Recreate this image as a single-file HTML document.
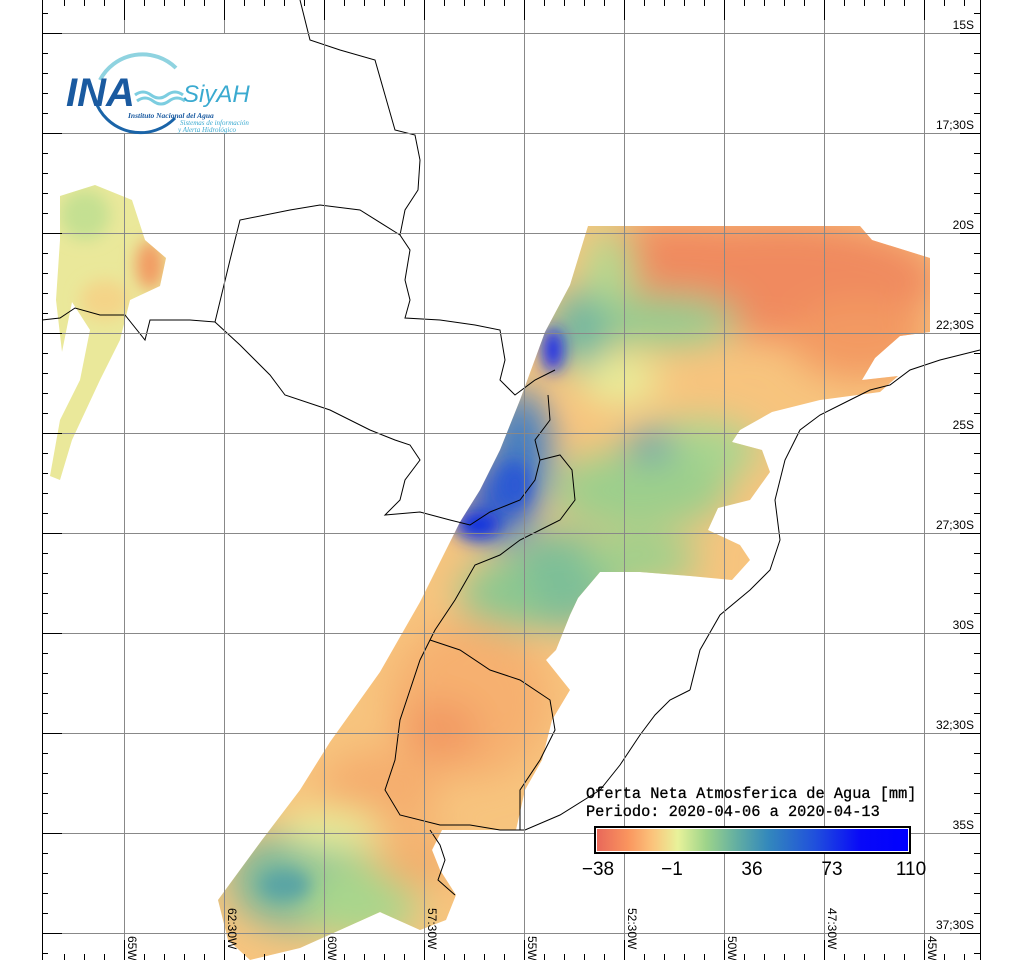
<!DOCTYPE html>
<html><head><meta charset="utf-8"><style>
html,body{margin:0;padding:0;background:#fff;width:1024px;height:960px;overflow:hidden}
svg{display:block}
</style></head><body>
<svg width="1024" height="960" viewBox="0 0 1024 960" xmlns="http://www.w3.org/2000/svg">
<defs>
<clipPath id="main"><path d="M588,226 L860,226 L872,240 L930,258 L930,332 L900,336 L875,358 L862,380 L898,376 L880,392 L820,400 L772,412 L740,430 L732,442 L762,450 L770,472 L750,500 L718,508 L708,530 L740,545 L750,560 L732,580 L690,576 L640,572 L600,572 L578,598 L570,615 L556,650 L546,660 L570,690 L552,720 L542,760 L525,790 L516,830 L490,830 L442,830 L432,850 L440,870 L456,895 L446,920 L420,930 L380,912 L340,930 L300,948 L250,960 L228,940 L218,900 L262,840 L300,790 L330,742 L380,672 L420,602 L440,562 L460,522 L480,490 L500,450 L520,400 L545,332 L570,285 Z"/></clipPath>
<clipPath id="west"><path d="M60,196 L95,185 L132,200 L145,240 L166,258 L160,286 L130,300 L120,340 L100,380 L72,440 L60,480 L50,476 L60,420 L80,380 L90,330 L72,302 L62,352 L56,300 L60,240 Z"/></clipPath>
<filter id="bl" x="-20%" y="-20%" width="140%" height="140%"><feGaussianBlur stdDeviation="18"/></filter>
<filter id="bl2"><feGaussianBlur stdDeviation="8"/></filter>
<linearGradient id="cb" x1="0" x2="1" y1="0" y2="0">
<stop offset="0" stop-color="#e8685a"/><stop offset="0.1" stop-color="#fa955e"/><stop offset="0.18" stop-color="#fbc47c"/><stop offset="0.26" stop-color="#e8f29a"/><stop offset="0.35" stop-color="#9ed48a"/><stop offset="0.45" stop-color="#62aea2"/><stop offset="0.55" stop-color="#3388bc"/><stop offset="0.7" stop-color="#2050dc"/><stop offset="0.85" stop-color="#0808f8"/><stop offset="1" stop-color="#0000ff"/>
</linearGradient>
</defs>

<g clip-path="url(#main)">
<rect x="200" y="220" width="750" height="740" fill="#f7c47e"/>
<g filter="url(#bl)">
<ellipse cx="780" cy="280" rx="160" ry="60" fill="#f08a5e"/>
<ellipse cx="680" cy="245" rx="90" ry="25" fill="#f08a5e"/>
<ellipse cx="860" cy="340" rx="70" ry="40" fill="#f39a62"/>
<ellipse cx="660" cy="320" rx="80" ry="25" fill="#92cc90"/>
<ellipse cx="610" cy="270" rx="25" ry="40" fill="#b0da90"/>
<ellipse cx="580" cy="330" rx="30" ry="40" fill="#70b6a0"/>
<ellipse cx="700" cy="450" rx="60" ry="30" fill="#a8d690"/>
<ellipse cx="640" cy="490" rx="90" ry="40" fill="#9ccf8c"/>
<ellipse cx="650" cy="445" rx="22" ry="14" fill="#4a90b8"/>
<ellipse cx="620" cy="380" rx="40" ry="25" fill="#e8ee9a"/>
<ellipse cx="520" cy="450" rx="30" ry="60" fill="#3c7cc4"/>
<ellipse cx="500" cy="500" rx="35" ry="40" fill="#2a5ad0"/>
<ellipse cx="560" cy="580" rx="60" ry="50" fill="#7cbe98"/>
<ellipse cx="500" cy="600" rx="40" ry="40" fill="#8cc890"/>
<ellipse cx="640" cy="560" rx="60" ry="25" fill="#9cd08c"/>
<ellipse cx="470" cy="700" rx="80" ry="80" fill="#f6b070"/>
<ellipse cx="440" cy="730" rx="40" ry="30" fill="#f29a64"/>
<ellipse cx="380" cy="790" rx="60" ry="40" fill="#f5ae6e"/>
<ellipse cx="300" cy="880" rx="70" ry="50" fill="#7ab89a"/>
<ellipse cx="360" cy="900" rx="60" ry="40" fill="#a8d68c"/>
<ellipse cx="420" cy="860" rx="40" ry="30" fill="#f3b06e"/>
<ellipse cx="330" cy="830" rx="50" ry="20" fill="#e8ee9a"/>
</g>
<g filter="url(#bl2)">
<ellipse cx="553" cy="350" rx="10" ry="22" fill="#0a20f0"/>
<ellipse cx="478" cy="525" rx="22" ry="14" fill="#1030e0"/>
<ellipse cx="515" cy="485" rx="15" ry="22" fill="#2a58d4"/>
<ellipse cx="285" cy="885" rx="25" ry="15" fill="#5aa4a4"/>
</g>
</g>
<g clip-path="url(#west)">
<rect x="40" y="180" width="140" height="310" fill="#eae89a"/>
<g filter="url(#bl2)">
<ellipse cx="150" cy="265" rx="14" ry="25" fill="#f29a62"/>
<ellipse cx="85" cy="215" rx="25" ry="25" fill="#c4e092"/>
<ellipse cx="105" cy="300" rx="25" ry="20" fill="#f4d488"/>
</g>
</g>

<g fill="none" stroke="#000" stroke-width="1">
<path d="M300,0 L310,40 L340,50 L375,60 L385,95 L395,130 L415,135 L420,160 L418,190 L405,210 L400,235 L410,250 L405,280 L410,300 L405,318 L440,320 L475,325 L500,330 L505,360 L500,380 L515,395 L535,380 L555,370"/>
<path d="M42,320 L60,318 L75,308 L100,315 L125,315 L145,340 L150,320 L190,320 L215,322 L230,260 L240,220 L290,210 L320,205 L360,210 L400,235"/>
<path d="M215,322 L240,345 L270,375 L285,395 L330,410 L370,430 L395,440 L410,445 L420,460 L405,480 L400,500 L385,515 L420,512 L450,520 L470,525 L490,512 L520,500 L535,480 L540,460 L535,440 L550,420 L548,395"/>
<path d="M540,460 L560,455 L572,470 L575,500 L560,520 L540,530 L520,540 L500,555 L475,565 L455,600 L435,630 L420,660 L410,690 L400,720 L395,760 L385,790 L400,815 L440,825 L470,825 L500,830 L525,830 L560,815 L600,790 L620,765 L640,735 L655,715 L670,700 L690,690"/>
<path d="M430,640 L460,650 L490,670 L520,680 L550,700 L555,730 L540,760 L520,790 L520,830"/>
<path d="M690,690 L700,650 L720,615 L750,590 L770,570 L780,540 L775,500 L785,460 L800,430 L820,415 L850,400 L870,390 L890,385 L910,370 L940,360 L980,350"/>
<path d="M430,830 L440,845 L445,860 L438,880 L455,895"/>
</g>

<g stroke="#888" stroke-width="1" fill="none">
<path d="M124.5,0V960M224.5,0V960M324.5,0V960M424.5,0V960M524.5,0V960M624.5,0V960M724.5,0V960M824.5,0V960M924.5,0V960"/>
<path d="M42,33.5H980M42,133.5H980M42,233.5H980M42,333.5H980M42,433.5H980M42,533.5H980M42,633.5H980M42,733.5H980M42,833.5H980M42,933.5H980"/>
</g>

<!-- logo -->
<rect x="62" y="34" width="204" height="99" fill="#fff"/>
<path d="M100,80 A48,48 0 0 1 176,68" fill="none" stroke="#8fd3e0" stroke-width="4"/>
<path d="M95,100 A48,48 0 0 0 175,118" fill="none" stroke="#1a64a8" stroke-width="3"/>
<text x="66" y="106" font-family="Liberation Sans, sans-serif" font-size="40" font-style="italic" font-weight="bold" fill="#1a5aa0">INA</text>
<path d="M135,95 q8,-6 16,0 t16,0 t16,0 M137,101 q8,-6 16,0 t16,0 t16,0" stroke="#7ccde0" stroke-width="3" fill="none"/>
<text x="183" y="102" font-family="Liberation Sans, sans-serif" font-size="24" font-style="italic" fill="#3aaad0">SiyAH</text>
<text x="128" y="118" font-family="Liberation Serif, serif" font-size="7.5" font-style="italic" font-weight="bold" fill="#1a5aa0">Instituto Nacional del Agua</text>
<text x="180" y="125" font-family="Liberation Serif, serif" font-size="7" font-style="italic" fill="#3aaad0">Sistemas de información</text>
<text x="178" y="132" font-family="Liberation Serif, serif" font-size="7" font-style="italic" fill="#3aaad0">y Alerta Hidrológico</text>

<g stroke="#000" stroke-width="1">
<path d="M42.5,0V960M980.5,0V960"/>
<path id="lt" d="M42,13.5h6M42,33.5h20M42,53.5h6M42,73.5h6M42,93.5h6M42,113.5h6M42,133.5h20M42,153.5h6M42,173.5h6M42,193.5h6M42,213.5h6M42,233.5h20M42,253.5h6M42,273.5h6M42,293.5h6M42,313.5h6M42,333.5h20M42,353.5h6M42,373.5h6M42,393.5h6M42,413.5h6M42,433.5h20M42,453.5h6M42,473.5h6M42,493.5h6M42,513.5h6M42,533.5h20M42,553.5h6M42,573.5h6M42,593.5h6M42,613.5h6M42,633.5h20M42,653.5h6M42,673.5h6M42,693.5h6M42,713.5h6M42,733.5h20M42,753.5h6M42,773.5h6M42,793.5h6M42,813.5h6M42,833.5h20M42,853.5h6M42,873.5h6M42,893.5h6M42,913.5h6M42,933.5h20M42,953.5h6"/>
<use href="#lt" transform="translate(1022,0) scale(-1,1)"/>
<path id="tt" d="M64.5,0v6M84.5,0v6M104.5,0v6M124.5,0v20M144.5,0v6M164.5,0v6M184.5,0v6M204.5,0v6M224.5,0v20M244.5,0v6M264.5,0v6M284.5,0v6M304.5,0v6M324.5,0v20M344.5,0v6M364.5,0v6M384.5,0v6M404.5,0v6M424.5,0v20M444.5,0v6M464.5,0v6M484.5,0v6M504.5,0v6M524.5,0v20M544.5,0v6M564.5,0v6M584.5,0v6M604.5,0v6M624.5,0v20M644.5,0v6M664.5,0v6M684.5,0v6M704.5,0v6M724.5,0v20M744.5,0v6M764.5,0v6M784.5,0v6M804.5,0v6M824.5,0v20M844.5,0v6M864.5,0v6M884.5,0v6M904.5,0v6M924.5,0v20M944.5,0v6M964.5,0v6"/>
<use href="#tt" transform="translate(0,960) scale(1,-1)"/>
</g>
<g font-family="Liberation Sans, sans-serif" font-size="12" fill="#000" text-anchor="end">
<text x="974" y="29">15S</text><text x="974" y="129">17;30S</text><text x="974" y="229">20S</text><text x="974" y="329">22;30S</text><text x="974" y="429">25S</text><text x="974" y="529">27;30S</text><text x="974" y="629">30S</text><text x="974" y="729">32;30S</text><text x="974" y="829">35S</text><text x="974" y="929">37;30S</text>
</g>
<g font-family="Liberation Sans, sans-serif" font-size="12" fill="#000">
<text transform="translate(128,936) rotate(90)">65W</text>
<text transform="translate(228,908) rotate(90)">62:30W</text>
<text transform="translate(328,936) rotate(90)">60W</text>
<text transform="translate(428,908) rotate(90)">57:30W</text>
<text transform="translate(528,936) rotate(90)">55W</text>
<text transform="translate(628,908) rotate(90)">52:30W</text>
<text transform="translate(728,936) rotate(90)">50W</text>
<text transform="translate(828,908) rotate(90)">47:30W</text>
<text transform="translate(928,936) rotate(90)">45W</text>
</g>
<g font-family="Liberation Mono, monospace" font-size="15.3" fill="#000" stroke="#000" stroke-width="0.3">
<text x="586" y="798">Oferta Neta Atmosferica de Agua [mm]</text>
<text x="586" y="816">Periodo: 2020-04-06 a 2020-04-13</text>
</g>
<rect x="594" y="826" width="317" height="28" fill="#000"/>
<rect x="596" y="828" width="313" height="24" fill="#fff"/>
<rect x="597" y="829" width="311" height="22" fill="url(#cb)"/>
<g font-family="Liberation Sans, sans-serif" font-size="19" fill="#000" text-anchor="middle">
<text x="598" y="875">−38</text><text x="672" y="875">−1</text><text x="752" y="875">36</text><text x="832" y="875">73</text><text x="911" y="875">110</text>
</g>
</svg>
</body></html>
